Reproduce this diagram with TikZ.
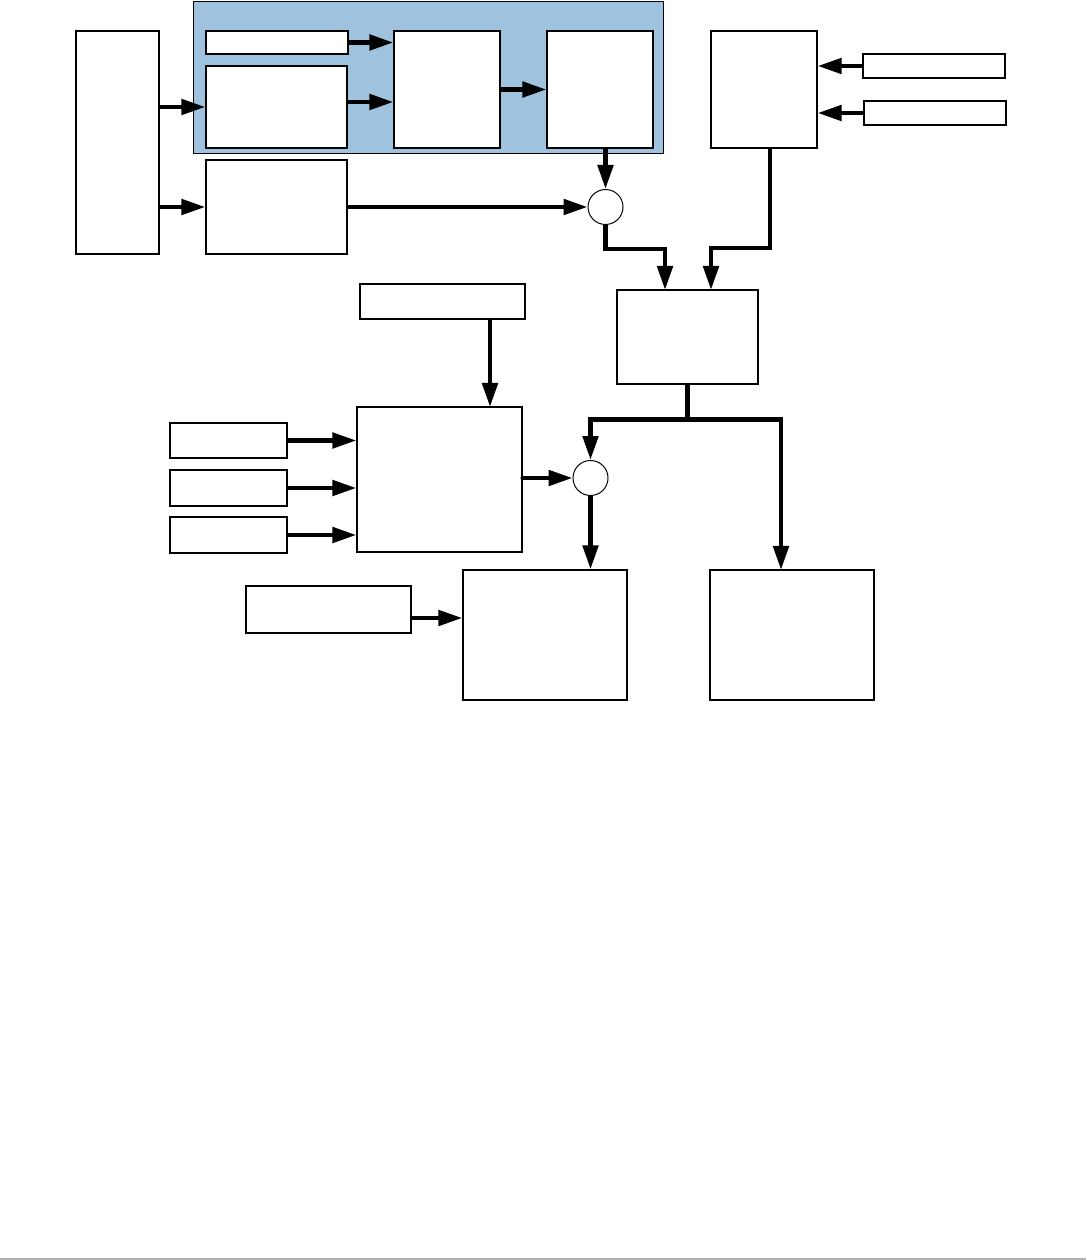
\documentclass[tikz,border=0pt]{standalone}
\usetikzlibrary{arrows.meta,fit}
\newcommand{\pxu}{0.025cm}
\definecolor{panelblue}{RGB}{159,195,223}
\tikzset{
  blk/.style={draw, fill=white, line width=0.9pt, inner sep=0pt},
  sumnode/.style={draw, circle, fill=white, line width=0.7pt, minimum size=35*\pxu, inner sep=0pt},
  conn/.style={line width=3.2pt, -{Triangle[length=0.6cm,width=0.38cm]}},
  bus/.style={line width=3.2pt},
}
\begin{document}
\begin{tikzpicture}[x=\pxu, y=-\pxu]
    % Page
    \useasboundingbox (0,0) rectangle (1086,1260);
    \draw[gray!60, line width=2*\pxu] (0,1258.5) -- (1086,1258.5);

    % Shaded group
    \node[draw, fill=panelblue, line width=0.7pt, inner sep=0pt, fit={(193,1) (663,153)}] (grp) {};

    % Top row
    \node[blk, fit={(76,31) (159,254)}] (src) {};
    \node[blk, fit={(206,31) (348,54)}] (tag) {};
    \node[blk, fit={(206,66) (347,148)}] (prep) {};
    \node[blk, fit={(206,160) (347,254)}] (byp) {};
    \node[blk, fit={(394,31) (500,148)}] (procA) {};
    \node[blk, fit={(547,31) (653,148)}] (procB) {};
    \node[sumnode] (sumA) at (605.5,207) {};
    \node[blk, fit={(711,31) (817,148)}] (aux) {};
    \node[blk, fit={(863,54) (1005,78)}] (auxinA) {};
    \node[blk, fit={(864,101) (1006,125)}] (auxinB) {};

    % Middle
    \node[blk, fit={(617,290) (758,384)}] (mix) {};
    \node[blk, fit={(360,284) (525,319)}] (ctl) {};
    \node[blk, fit={(357,407) (522,552)}] (core) {};
    \node[blk, fit={(170,423) (287,458)}] (inA) {};
    \node[blk, fit={(170,470) (287,506)}] (inB) {};
    \node[blk, fit={(170,517) (287,553)}] (inC) {};
    \node[sumnode] (sumB) at (590.5,478) {};

    % Bottom
    \node[blk, fit={(246,586) (411,633)}] (ref) {};
    \node[blk, fit={(463,570) (627,700)}] (outA) {};
    \node[blk, fit={(710,570) (874,700)}] (outB) {};

    % Points on box edges
    \coordinate (prepout) at (347,102);
    \coordinate (mixA) at (665,290);
    \coordinate (mixB) at (711,290);
    \coordinate (auxout) at (770,148);
    \coordinate (coreA) at (490,407);
    \coordinate (outBin) at (781,570);
    \coordinate (refout) at (411,618);

    % Connectors, top
    \draw[conn] (src.east |- prep.west) -- (prep.west);
    \draw[conn] (src.east |- byp.west) -- (byp.west);
    \draw[conn] (tag.east) -- (procA.west |- tag.east);
    \draw[conn] (prepout) -- (procA.west |- prepout);
    \draw[conn] (procA.east) -- (procB.west);
    \draw[conn] (procB.south -| sumA) -- (sumA.north);
    \draw[conn] (byp.east) -- (sumA.west);
    \draw[conn] (sumA.south) -- ++(0,24) -| (mixA);
    \draw[conn] (auxout) -- ++(0,100) -| (mixB);
    \draw[conn] (auxinA.west) -- (aux.east |- auxinA.west);
    \draw[conn] (auxinB.west) -- (aux.east |- auxinB.west);

    % Connectors, middle and bottom
    \draw[bus] (mix.south) -- ++(0,35) coordinate (split);
    \draw[conn] (split) -| (sumB.north);
    \draw[conn] (split) -| (outBin);
    \draw[conn] (ctl.south -| coreA) -- (coreA);
    \draw[conn] (inA.east) -- (core.west |- inA.east);
    \draw[conn] (inB.east) -- (core.west |- inB.east);
    \draw[conn] (inC.east) -- (core.west |- inC.east);
    \draw[conn, line cap=round] (core.east |- sumB) -- (sumB.west);
    \draw[conn] (sumB.south) -- (sumB.south |- outA.north);
    \draw[conn] (refout) -- (outA.west |- refout);
\end{tikzpicture}
\end{document}
